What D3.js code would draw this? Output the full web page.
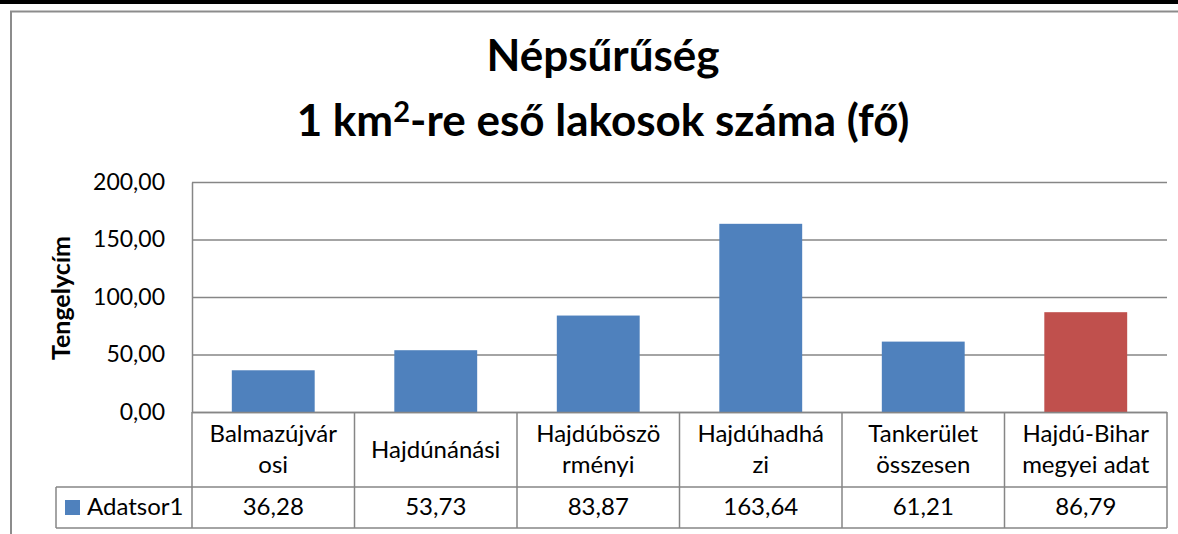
<!DOCTYPE html>
<html>
<head>
<meta charset="utf-8">
<script src="https://cdn.jsdelivr.net/npm/d3@7"></script>
<style>
  body { margin: 0; background: #fff; }
  svg { display: block; font-family: Lato, "Open Sans", sans-serif; }
</style>
</head>
<body>
<div id="chart"></div>
<script>
// chart data
const categories = ["Balmazújvárosi", "Hajdúnánási", "Hajdúböszörményi", "Hajdúhadházi", "Tankerület összesen", "Hajdú-Bihar megyei adat"];
const categoryLines = [["Balmazújvár", "osi"], ["Hajdúnánási"], ["Hajdúböszö", "rményi"], ["Hajdúhadhá", "zi"], ["Tankerület", "összesen"], ["Hajdú-Bihar", "megyei adat"]];
const values = [36.28, 53.73, 83.87, 163.64, 61.21, 86.79];
const seriesName = "Adatsor1";
const yTicks = [0, 50, 100, 150, 200];

const svgWidth = 1178;
const svgHeight = 534;

// plot area
const plotLeft = 192, plotRight = 1167, plotTop = 182, plotBottom = 412;
const rowMid = 487, rowEnd = 528, legendLeft = 56;

const gridColor = "#868686";
const huLocale = d3.formatLocale({decimal: ",", thousands: " ", grouping: [3], currency: ["", ""]});
const fmt = huLocale.format(".2f");

const svg = d3.select("#chart")
  .append("svg")
    .attr("width", svgWidth)
    .attr("height", svgHeight);

// black band at top and outer chart border
svg.append("rect").attr("x", 0).attr("y", 0).attr("width", svgWidth).attr("height", 4).style("fill", "#000");
svg.append("path")
  .attr("d", "M11," + (svgHeight + 2) + "V11.5H" + (svgWidth + 2))
  .style("fill", "none").style("stroke", "#8c8c8c").style("stroke-width", 2);

const x = d3.scaleBand().domain(categories).range([plotLeft, plotRight]).paddingInner(0.49).paddingOuter(0.245);
const xCol = d3.scaleBand().domain(categories).range([plotLeft, plotRight]);
const y = d3.scaleLinear().domain([0, 200]).range([plotBottom, plotTop]);

// title
const title = svg.append("text")
  .attr("text-anchor", "middle")
  .style("font-weight", "bold")
  .style("font-size", "44px")
  .style("fill", "#000");
title.append("tspan").attr("x", 603).attr("y", 71).text("Népsűrűség");
const t2 = title.append("tspan").attr("x", 603).attr("y", 136);
t2.append("tspan").text("1 km");
t2.append("tspan").attr("dy", -14).style("font-size", "29px").text("2");
t2.append("tspan").attr("dy", 14).text("-re eső lakosok száma (fő)");

// gridlines
svg.append("g")
  .selectAll("line")
  .data(yTicks)
  .enter()
  .append("line")
    .attr("x1", plotLeft).attr("x2", plotRight)
    .attr("y1", d => y(d) + 0.5).attr("y2", d => y(d) + 0.5)
    .style("stroke", gridColor).style("stroke-width", 1.5);

// y axis
const yAxis = d3.axisLeft(y).tickValues(yTicks).tickFormat(fmt).tickSize(0).tickPadding(27);
const gy = svg.append("g").attr("transform", "translate(" + plotLeft + ",0)").call(yAxis);
gy.select(".domain").style("stroke", gridColor).style("stroke-width", 1.5);
gy.selectAll("text").style("font-size", "23px").style("fill", "#000").style("font-family", "Lato, sans-serif");

svg.append("text")
  .attr("transform", "translate(70,298) rotate(-90)")
  .attr("text-anchor", "middle")
  .style("font-weight", "bold")
  .style("font-size", "25px")
  .text("Tengelycím");

// bars
svg.append("g")
  .selectAll("rect")
  .data(values)
  .enter()
  .append("rect")
    .attr("x", (d, i) => x(categories[i]))
    .attr("width", x.bandwidth())
    .attr("y", d => y(d))
    .attr("height", d => y(0) - y(d))
    .style("fill", (d, i) => i === values.length - 1 ? "#C0504D" : "#4F81BD");

// data table
const table = svg.append("g").style("stroke", gridColor).style("stroke-width", 1.5).style("fill", "none");
table.append("line").attr("x1", plotLeft).attr("x2", plotRight).attr("y1", plotBottom + 0.5).attr("y2", plotBottom + 0.5);
table.append("line").attr("x1", legendLeft).attr("x2", plotRight).attr("y1", rowMid).attr("y2", rowMid);
table.append("line").attr("x1", legendLeft).attr("x2", plotRight).attr("y1", rowEnd).attr("y2", rowEnd);
table.append("line").attr("x1", legendLeft).attr("x2", legendLeft).attr("y1", rowMid).attr("y2", rowEnd);
table.selectAll(".col")
  .data(categories.concat(["end"]))
  .enter()
  .append("line")
    .attr("x1", (d, i) => plotLeft + i * xCol.bandwidth())
    .attr("x2", (d, i) => plotLeft + i * xCol.bandwidth())
    .attr("y1", plotBottom).attr("y2", rowEnd);

// category labels
svg.append("g")
  .selectAll("text")
  .data(categoryLines)
  .enter()
  .append("text")
    .attr("text-anchor", "middle")
    .style("font-size", "24px")
    .each(function(lines, i) {
      const cx = xCol(categories[i]) + xCol.bandwidth() / 2;
      const start = lines.length === 1 ? 458 : 442;
      lines.forEach((l, j) => {
        d3.select(this).append("tspan").attr("x", cx).attr("y", start + j * 31).text(l);
      });
    });

// value row
svg.append("g")
  .selectAll("text")
  .data(values)
  .enter()
  .append("text")
    .attr("x", (d, i) => xCol(categories[i]) + xCol.bandwidth() / 2)
    .attr("y", 515)
    .attr("text-anchor", "middle")
    .style("font-size", "24px")
    .text(d => fmt(d));

// legend key
svg.append("rect").attr("x", 65).attr("y", 500).attr("width", 15).attr("height", 15).style("fill", "#4F81BD");
svg.append("text").attr("x", 87).attr("y", 515).style("font-size", "24px").text(seriesName);
</script>
</body>
</html>
